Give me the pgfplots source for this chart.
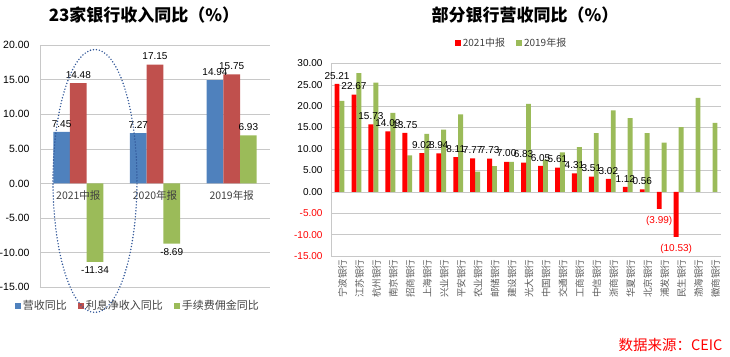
\documentclass[border=0pt]{standalone}
\usepackage{pgfplots}
\pgfplotsset{compat=1.18}
\usepackage{pgfplotstable}
\usepackage{fontspec}
\setmainfont{Liberation Sans}
\newfontfamily\cjk{Noto Sans CJK SC}
\definecolor{cblue}{HTML}{4F81BD}
\definecolor{cred}{HTML}{C0504D}
\definecolor{cgreen}{HTML}{9BBB59}
\definecolor{bred}{HTML}{FF0000}
\definecolor{gridc}{HTML}{C8C8C8}
\definecolor{txt}{HTML}{404040}
\definecolor{ell}{HTML}{2F5597}

\pgfplotsset{
  leftgeom/.style={
    at={(40pt,68.7pt)}, anchor=south west,
    width=230pt, height=242.3pt, scale only axis,
    xmin=-0.5, xmax=2.5, ymin=-15, ymax=20,
  },
}

\pgfplotstableread{
x ying lixi shouxu
0 7.45 14.48 -11.34
1 7.27 17.15 -8.69
2 14.94 15.75 6.93
}\lefttab

% 2021 interim, banks with growth
\pgfplotstableread{
x y
0 25.21
1 22.67
2 15.73
3 14.09
4 13.75
5 9.02
6 8.94
7 8.11
8 7.77
9 7.73
10 7.00
11 6.83
12 6.05
13 5.61
14 4.31
15 3.51
16 3.02
17 1.12
18 0.56
}\redpos

% 2021 interim, banks with decline
\pgfplotstableread{
x y lab
19 -3.99 (3.99)
20 -10.53 (10.53)
}\redneg

\pgfplotstableread{
x y
0 21.2
1 27.7
2 25.5
3 18.4
4 8.5
5 13.5
6 14.5
7 18.1
8 4.7
9 6.0
10 7.0
11 20.5
12 7.5
13 9.2
14 10.4
15 13.7
16 19.0
17 17.2
18 13.7
19 11.5
20 15.1
21 21.9
22 16.1
}\greentab

\begin{document}
\begin{tikzpicture}
\useasboundingbox (0pt,0pt) rectangle (730pt,356pt);

% titles
\node[font=\cjk\bfseries\fontsize{17}{20}\selectfont] at (144pt,341pt) {23家银行收入同比（\%）};
\node[font=\cjk\bfseries\fontsize{17}{20}\selectfont] at (525pt,341pt) {部分银行营收同比（\%）};
\node[font=\cjk\fontsize{14.5}{16}\selectfont, text=bred, anchor=east] at (726pt,11pt) {数据来源：CEIC};

% left chart
\begin{axis}[
  leftgeom,
  ybar=0pt, bar width=16.7pt,
  ytick={-15,-10,...,20},
  xtick={0,1,2}, xticklabels={},
  axis x line=bottom, axis y line=left,
  axis line style={gridc,-},
  major tick length=0pt,
  ymajorgrids, grid style={gridc},
  yticklabel style={xshift=-7pt, font=\fontsize{10.5}{12}\selectfont, /pgf/number format/fixed, /pgf/number format/fixed zerofill, /pgf/number format/precision=2},
  /pgf/number format/assume math mode=true,
  nodes near coords,
  nodes near coords style={font=\fontsize{10}{12}\selectfont, /pgf/number format/fixed, /pgf/number format/fixed zerofill, /pgf/number format/precision=2},
  every node near coord/.append style={inner sep=4.5pt, text=black},
  legend columns=3,
  legend style={at={(0.426,-0.076)}, anchor=center, draw=none, fill=none,
    font=\cjk\fontsize{11}{13}\selectfont, text=txt,
    /tikz/every even column/.append style={column sep=9pt}},
  every axis plot post/.append style={legend image code/.code={\fill[##1] (0pt,-3pt) rectangle (6pt,3pt);}},
  clip=false,
]
\addplot[fill=cblue, draw=none] table[x=x,y=ying]{\lefttab};
\addplot[fill=cred, draw=none] table[x=x,y=lixi]{\lefttab};
\addplot[fill=cgreen, draw=none] table[x=x,y=shouxu]{\lefttab};
\legend{营收同比,利息净收入同比,手续费佣金同比}
\end{axis}
% category labels of the left chart, set over the bars
\begin{axis}[
  leftgeom,
  axis x line=bottom, axis y line=none,
  x axis line style={draw=none},
  major tick length=0pt,
  xtick={0,1,2}, xticklabels={2021中报,2020年报,2019年报},
  xticklabel style={font=\cjk\fontsize{10.5}{12}\selectfont, text=txt, yshift=100pt},
  clip=false,
]
\draw[ell, line width=1.6pt, dash pattern=on 0pt off 3pt, line cap=round] (axis cs:0.217,0.36) ellipse [x radius=42pt, y radius=131.5pt];
\end{axis}

% right chart
\begin{axis}[
  at={(331pt,100pt)}, anchor=south west,
  width=390pt, height=192.7pt, scale only axis,
  ybar=0pt, bar width=4.9pt,
  xmin=-0.5, xmax=22.5, ymin=-15, ymax=30,
  ytick={-15,-10,...,30},
  yticklabels={\textcolor{bred}{-15.00},\textcolor{bred}{-10.00},\textcolor{bred}{-5.00},0.00,5.00,10.00,15.00,20.00,25.00,30.00},
  yticklabel style={xshift=-5pt, font=\fontsize{10}{12}\selectfont},
  xtick={0,...,22},
  xticklabels={宁波银行,江苏银行,杭州银行,南京银行,招商银行,上海银行,兴业银行,平安银行,农业银行,邮储银行,建设银行,光大银行,中国银行,交通银行,工商银行,中信银行,浙商银行,华夏银行,北京银行,浦发银行,民生银行,渤海银行,徽商银行},
  xticklabel style={rotate=90, anchor=east, font=\cjk\fontsize{9.5}{11}\selectfont, text=txt!85, yshift=-3pt},
  axis x line=bottom, axis y line=left,
  axis line style={gridc,-},
  major tick length=0pt,
  ymajorgrids, grid style={gridc},
  legend columns=2, reverse legend,
  legend style={at={(0.463,1.104)}, anchor=center, draw=none, fill=none,
    font=\cjk\fontsize{10}{12}\selectfont, text=txt,
    /tikz/every even column/.append style={column sep=9pt}},
  every axis plot post/.append style={legend image code/.code={\fill[##1] (0pt,-3pt) rectangle (6pt,3pt);}},
  /pgf/number format/assume math mode=true,
  clip=false,
]
\addplot[fill=cgreen, draw=none, bar shift=2.45pt] table[x=x,y=y]{\greentab};
\addplot[fill=bred, draw=none, bar shift=-2.45pt, nodes near coords,
  nodes near coords style={/pgf/number format/fixed, /pgf/number format/fixed zerofill, /pgf/number format/precision=2},
  every node near coord/.append style={font=\fontsize{10}{12}\selectfont, inner sep=4.5pt, text=black}]
  table[x=x,y=y]{\redpos};
\addplot[forget plot, fill=bred, draw=none, bar shift=-2.45pt, nodes near coords, point meta=explicit symbolic,
  every node near coord/.append style={font=\fontsize{10}{12}\selectfont, inner sep=4.5pt, yshift=-3pt, text=bred, anchor=north}]
  table[x=x,y=y,meta=lab]{\redneg};
\legend{2019年报,2021中报}
\end{axis}
\end{tikzpicture}
\end{document}
